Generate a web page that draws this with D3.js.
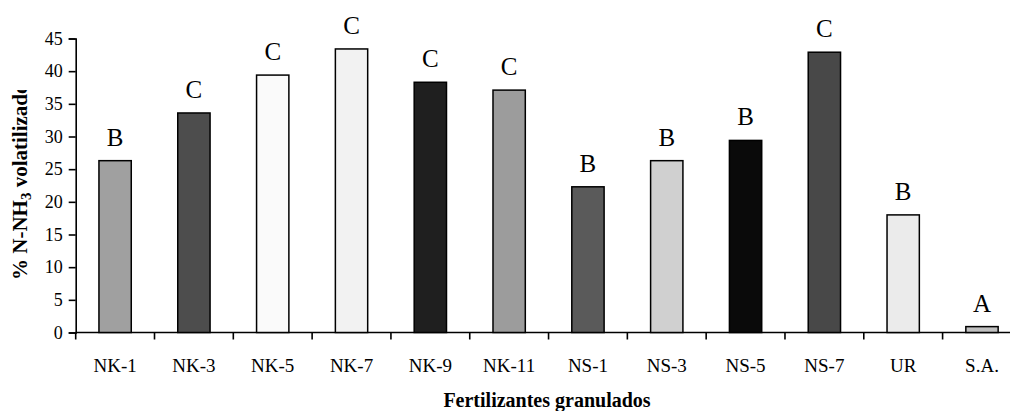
<!DOCTYPE html>
<html>
<head>
<meta charset="utf-8">
<script src="https://cdn.jsdelivr.net/npm/d3@7"></script>
<style>
  body { margin: 0; background: #fff; }
  text { font-family: "Liberation Serif", "Times New Roman", serif; fill: #000; }
</style>
</head>
<body>
<div id="chart"></div>
<script>
var categories = ["NK-1", "NK-3", "NK-5", "NK-7", "NK-9", "NK-11", "NS-1", "NS-3", "NS-5", "NS-7", "UR", "S.A."];
var values = [26.3, 33.6, 39.4, 43.4, 38.3, 37.1, 22.3, 26.3, 29.4, 42.9, 18.0, 0.9];
var letters = ["B", "C", "C", "C", "C", "C", "B", "B", "B", "C", "B", "A"];
var colors = ["#a0a0a0", "#4d4d4d", "#fafafa", "#f2f2f2", "#1f1f1f", "#9c9c9c", "#5a5a5a", "#d0d0d0", "#0a0a0a", "#484848", "#ebebeb", "#c0c0c0"];
var yTicks = [0, 5, 10, 15, 20, 25, 30, 35, 40, 45];

var width = 1010;
var height = 411;

var svg = d3.select("#chart")
  .append("svg")
  .attr("width", width)
  .attr("height", height);

var x = d3.scaleBand()
  .domain(categories)
  .range([75.7, 1021.4])
  .padding(0);

var y = d3.scaleLinear()
  .domain([0, 45])
  .range([332.5, 38.5]);

var barW = x.bandwidth() * 0.41;

// y axis
var yAxis = svg.append("g")
  .attr("transform", "translate(75.7,0)")
  .call(d3.axisLeft(y).tickValues(yTicks).tickSize(7).tickPadding(6));
yAxis.select(".domain").attr("stroke", "#000").attr("stroke-width", 1.6);
yAxis.selectAll(".tick line").attr("stroke", "#000").attr("stroke-width", 1.6);
yAxis.selectAll(".tick text")
  .attr("font-size", 18)
  .attr("fill", "#000");

// x axis line
svg.append("line")
  .attr("x1", x.range()[0])
  .attr("x2", x.range()[1])
  .attr("y1", y(0))
  .attr("y2", y(0))
  .attr("stroke", "#000")
  .attr("stroke-width", 1.6);

// x ticks between categories
var bounds = categories.map(function(c) { return x(c); });
svg.selectAll(".xtick")
  .data(bounds)
  .enter()
  .append("line")
  .attr("class", "xtick")
  .attr("x1", function(d) { return d; })
  .attr("x2", function(d) { return d; })
  .attr("y1", y(0))
  .attr("y2", y(0) + 7)
  .attr("stroke", "#000")
  .attr("stroke-width", 1.6);

// x labels
svg.selectAll(".xlab")
  .data(categories)
  .enter()
  .append("text")
  .attr("class", "xlab")
  .attr("x", function(d) { return x(d) + x.bandwidth() / 2; })
  .attr("y", 372)
  .attr("text-anchor", "middle")
  .attr("font-size", 19)
  .text(function(d) { return d; });

// bars
svg.selectAll(".bar")
  .data(categories)
  .enter()
  .append("rect")
  .attr("class", "bar")
  .attr("x", function(d) { return x(d) + (x.bandwidth() - barW) / 2; })
  .attr("width", barW)
  .attr("y", function(d, i) { return y(values[i]); })
  .attr("height", function(d, i) { return y(0) - y(values[i]); })
  .attr("fill", function(d, i) { return colors[i]; })
  .attr("stroke", "#000")
  .attr("stroke-width", 1.5);

// letters
svg.selectAll(".letter")
  .data(categories)
  .enter()
  .append("text")
  .attr("class", "letter")
  .attr("x", function(d) { return x(d) + x.bandwidth() / 2; })
  .attr("y", function(d, i) { return y(values[i]) - 15; })
  .attr("text-anchor", "middle")
  .attr("font-size", 25)
  .text(function(d, i) { return letters[i]; });

// y title, clipped like the original
svg.append("clipPath")
  .attr("id", "yclip")
  .append("rect")
  .attr("x", 0)
  .attr("y", 90)
  .attr("width", 40)
  .attr("height", 220);

var ylab = svg.append("g")
  .attr("clip-path", "url(#yclip)")
  .append("text")
  .attr("transform", "translate(27,280) rotate(-90)")
  .attr("font-size", 21)
  .attr("font-weight", "bold");
ylab.append("tspan").text("% N-NH");
ylab.append("tspan").attr("font-size", 15).attr("dy", 4).text("3");
ylab.append("tspan").attr("dy", -4).text(" volatilizado");

// x title
svg.append("text")
  .attr("x", 547)
  .attr("y", 407)
  .attr("text-anchor", "middle")
  .attr("font-size", 20)
  .attr("font-weight", "bold")
  .text("Fertilizantes granulados");
</script>
</body>
</html>
